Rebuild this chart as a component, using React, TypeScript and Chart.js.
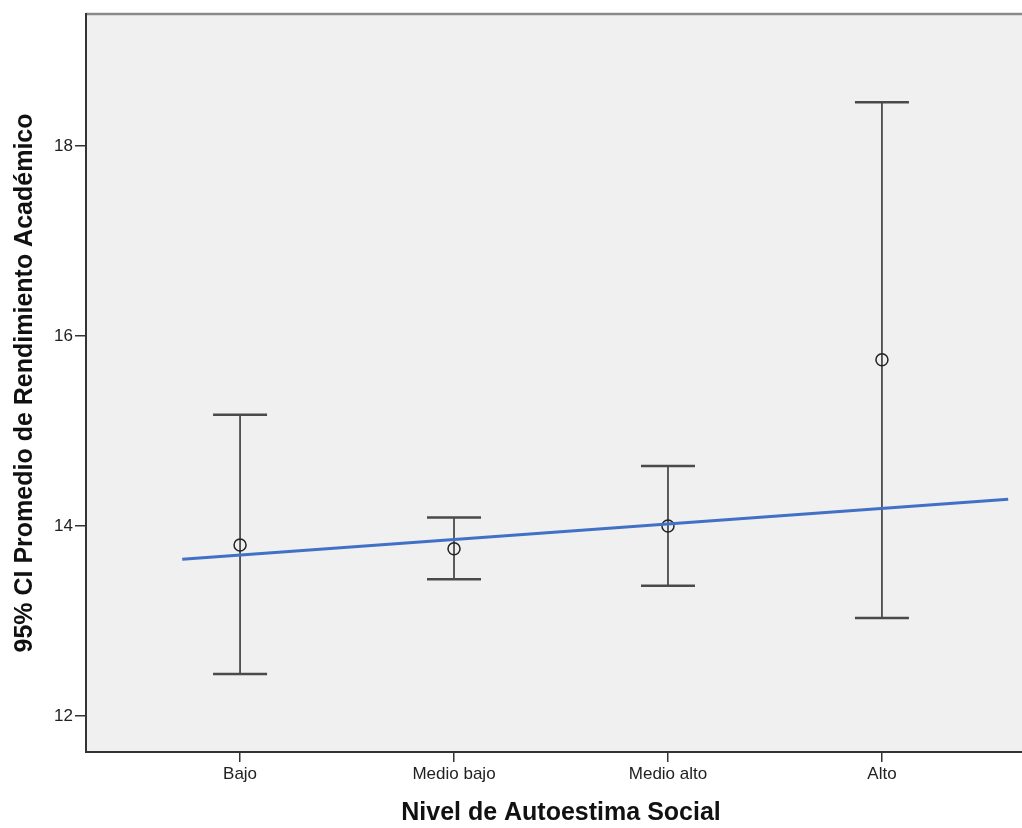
import React, { useEffect, useRef } from 'react';
import { Chart, registerables } from 'chart.js';

Chart.register(...registerables);

const categories = ['Bajo', 'Medio bajo', 'Medio alto', 'Alto'];
const categoryX = [1, 2, 3, 4];
const means = [13.8, 13.76, 14.0, 15.75];
const lower = [12.44, 13.44, 13.37, 13.03];
const upper = [15.17, 14.09, 14.63, 18.46];
const fitX = [0.73, 4.59];
const fitY = [13.65, 14.28];
const yTicks = [12, 14, 16, 18];

const FONT = '"Liberation Sans", Arial, sans-serif';

const plotBg = {
  id: 'plotBg',
  beforeDraw(chart: any) {
    const { ctx, chartArea } = chart;
    const { left, top, right, bottom } = chartArea;
    ctx.save();
    ctx.fillStyle = '#f0f0f0';
    ctx.fillRect(left, top, right - left, bottom - top);
    ctx.strokeStyle = '#8a8a8a';
    ctx.lineWidth = 2.5;
    ctx.beginPath();
    ctx.moveTo(left, top);
    ctx.lineTo(right, top);
    ctx.stroke();
    ctx.restore();
  },
};

export default function App() {
  const ref = useRef<HTMLCanvasElement | null>(null);

  useEffect(() => {
    if (!ref.current) return;
    const whiskers = categoryX.map((x, i) => ({
      type: 'scatter' as const,
      data: [
        { x, y: lower[i] },
        { x, y: upper[i] },
      ],
      showLine: true,
      borderColor: '#2a2a2a',
      borderWidth: 1.5,
      pointStyle: 'line' as const,
      pointRadius: 27,
      pointHoverRadius: 27,
      pointBorderColor: '#4a4a4a',
      pointBorderWidth: 2.5,
      pointBackgroundColor: '#4a4a4a',
    }));

    const chart = new Chart(ref.current, {
      type: 'scatter',
      data: {
        datasets: [
          {
            data: fitX.map((x, i) => ({ x, y: fitY[i] })),
            showLine: true,
            borderColor: '#4270c6',
            borderWidth: 3,
            pointRadius: 0,
            pointHoverRadius: 0,
          },
          {
            data: categoryX.map((x, i) => ({ x, y: means[i] })),
            showLine: false,
            pointStyle: 'circle',
            pointRadius: 6,
            pointHoverRadius: 6,
            pointBorderColor: '#222',
            pointBackgroundColor: 'rgba(0,0,0,0)',
            pointBorderWidth: 1.5,
          },
          ...whiskers,
        ] as any,
      },
      options: {
        animation: false,
        responsive: false,
        devicePixelRatio: 1,
        layout: { autoPadding: false, padding: { top: 14, left: 0, right: 0, bottom: 0 } },
        plugins: {
          legend: { display: false },
          tooltip: { enabled: false },
        },
        scales: {
          x: {
            type: 'linear',
            min: 0.28,
            max: 4.72,
            afterFit: (s: any) => {
              s.height = 76;
            },
            afterBuildTicks: (s: any) => {
              s.ticks = categoryX.map((v) => ({ value: v }));
            },
            ticks: {
              callback: (v: any) => categories[categoryX.indexOf(Number(v))] ?? '',
              color: '#222',
              font: { family: FONT, size: 17 },
              padding: 2,
              maxRotation: 0,
              autoSkip: false,
            },
            grid: {
              display: true,
              drawOnChartArea: false,
              drawTicks: true,
              tickLength: 10,
              color: '#333',
              lineWidth: 1.5,
            },
            border: { display: true, color: '#333', width: 2 },
            title: {
              display: true,
              text: 'Nivel de Autoestima Social',
              color: '#111',
              font: { family: FONT, size: 25, weight: 'bold' },
              padding: { top: 0, bottom: 0 },
            },
          },
          y: {
            type: 'linear',
            min: 11.62,
            max: 19.39,
            afterFit: (s: any) => {
              s.width = 86;
            },
            afterBuildTicks: (s: any) => {
              s.ticks = yTicks.map((v) => ({ value: v }));
            },
            ticks: {
              color: '#222',
              font: { family: FONT, size: 17 },
              padding: 2,
            },
            grid: {
              display: true,
              drawOnChartArea: false,
              drawTicks: true,
              tickLength: 11,
              color: '#333',
              lineWidth: 1.5,
            },
            border: { display: true, color: '#333', width: 2 },
            title: {
              display: true,
              text: '95% CI Promedio de Rendimiento Académico',
              color: '#111',
              font: { family: FONT, size: 25, weight: 'bold' },
              padding: { top: 10, bottom: 0 },
            },
          },
        },
      },
      plugins: [plotBg],
    });
    return () => chart.destroy();
  }, []);

  return (
    <div
      style={{
        position: 'fixed',
        left: 0,
        top: 0,
        width: 1022,
        height: 828,
        overflow: 'hidden',
        background: '#fff',
      }}
    >
      <canvas ref={ref} width={1036} height={828} style={{ display: 'block' }} />
    </div>
  );
}
